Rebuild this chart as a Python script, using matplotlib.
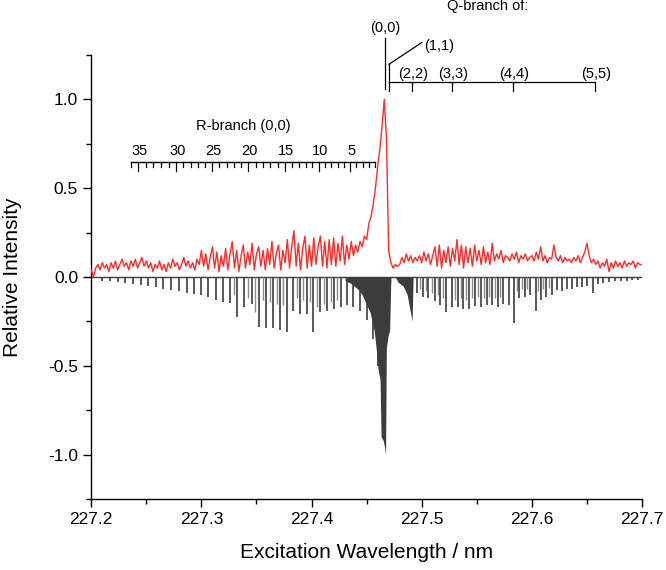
import numpy as np
import matplotlib
matplotlib.use("Agg")
import matplotlib.pyplot as plt
from matplotlib.ticker import MultipleLocator

plt.rcParams["font.family"] = ["Liberation Sans", "DejaVu Sans"]
plt.rcParams["axes.unicode_minus"] = False

# ── measured LIF trace (red), 0.002 nm grid from 227.200 nm ────────────────
WL_START = 227.200
WL_STEP = 0.002
lif = [
    0.04, 0.00, 0.05, 0.07, 0.04, 0.08, 0.05, 0.07, 0.03, 0.08,
    0.05, 0.09, 0.04, 0.07, 0.10, 0.06, 0.08, 0.04, 0.09, 0.06,
    0.10, 0.05, 0.08, 0.11, 0.06, 0.09, 0.05, 0.08, 0.03, 0.07,
    0.05, 0.09, 0.04, 0.07, 0.03, 0.08, 0.05, 0.10, 0.06, 0.08,
    0.04, 0.07, 0.11, 0.06, 0.09, 0.05, 0.08, 0.04, 0.10, 0.07,
    0.15, 0.06, 0.13, 0.04, 0.11, 0.17, 0.05, 0.14, 0.03, 0.12,
    0.06, 0.16, 0.04, 0.13, 0.20, 0.05, 0.15, 0.03, 0.12, 0.18,
    0.05, 0.14, 0.07, 0.19, 0.04, 0.13, 0.17, 0.06, 0.15, 0.04,
    0.16, 0.07, 0.20, 0.05, 0.13, 0.18, 0.04, 0.15, 0.08, 0.21,
    0.05, 0.17, 0.26, 0.06, 0.19, 0.04, 0.16, 0.23, 0.05, 0.18,
    0.06, 0.22, 0.07, 0.17, 0.23, 0.06, 0.20, 0.05, 0.21, 0.07,
    0.22, 0.06, 0.19, 0.09, 0.23, 0.07, 0.18, 0.10, 0.20, 0.12,
    0.18, 0.14, 0.20, 0.17, 0.23, 0.21, 0.30, 0.34, 0.41, 0.50,
    0.62, 0.72, 0.85, 1.00, 0.78, 0.15, 0.08, 0.05, 0.07, 0.06,
    0.07, 0.11, 0.08, 0.13, 0.09, 0.12, 0.08, 0.11, 0.09, 0.12,
    0.08, 0.14, 0.09, 0.13, 0.07, 0.12, 0.17, 0.06, 0.18, 0.05,
    0.15, 0.08, 0.17, 0.06, 0.16, 0.09, 0.21, 0.07, 0.18, 0.05,
    0.17, 0.08, 0.16, 0.06, 0.18, 0.09, 0.15, 0.07, 0.17, 0.08,
    0.14, 0.07, 0.19, 0.09, 0.13, 0.10, 0.15, 0.08, 0.12, 0.11,
    0.09, 0.13, 0.10, 0.14, 0.08, 0.12, 0.10, 0.13, 0.09, 0.11,
    0.12, 0.09, 0.14, 0.10, 0.17, 0.09, 0.12, 0.08, 0.11, 0.10,
    0.18, 0.11, 0.09, 0.12, 0.08, 0.11, 0.09, 0.10, 0.08, 0.11,
    0.09, 0.12, 0.08, 0.11, 0.14, 0.19, 0.12, 0.08, 0.10, 0.07,
    0.09, 0.05, 0.08, 0.06, 0.10, 0.03, 0.08, 0.05, 0.09, 0.06,
    0.08, 0.05, 0.09, 0.06, 0.08, 0.07, 0.09, 0.05, 0.08, 0.07,
    0.07,
]

# ── simulated stick spectrum (plotted downwards) ─────────────────────────────
stick_wl = [
    227.2097, 227.2172, 227.2242, 227.2309, 227.2381, 227.2454, 227.2517,
    227.2590, 227.2653, 227.2723, 227.2799, 227.2868, 227.2935, 227.2998,
    227.3062, 227.3134, 227.3198, 227.3261, 227.3325, 227.3388, 227.3461,
    227.3525, 227.3588, 227.3649, 227.3715, 227.3776, 227.3833, 227.3897,
    227.3957, 227.4015, 227.4078, 227.4142, 227.4205, 227.4266, 227.4320,
    227.4378, 227.4441, 227.4502, 227.4556, 227.4604,
    227.4956, 227.5010, 227.5058, 227.5122, 227.5167, 227.5221, 227.5273,
    227.5330, 227.5376, 227.5430, 227.5485, 227.5539, 227.5591, 227.5639,
    227.5691, 227.5739, 227.5790, 227.5839, 227.5884, 227.5938, 227.5984,
    227.6035, 227.6083, 227.6129, 227.6181, 227.6226, 227.6271, 227.6317,
    227.6362, 227.6407, 227.6453, 227.6498, 227.6558, 227.6601, 227.6646,
    227.6701, 227.6755, 227.6807, 227.6861, 227.6909, 227.6964,
]
stick_int = [
    0.02, 0.025, 0.03, 0.035, 0.04, 0.045, 0.05,
    0.055, 0.065, 0.075, 0.08, 0.09, 0.095, 0.10,
    0.11, 0.13, 0.14, 0.146, 0.225, 0.17, 0.15,
    0.28, 0.29, 0.29, 0.30, 0.31, 0.19, 0.21,
    0.21, 0.31, 0.20, 0.19, 0.18, 0.17, 0.16,
    0.17, 0.19, 0.24, 0.35, 0.50,
    0.09, 0.11, 0.12, 0.135, 0.16, 0.20, 0.17,
    0.17, 0.18, 0.18, 0.165, 0.17, 0.16, 0.16,
    0.17, 0.15, 0.16, 0.26, 0.12, 0.11, 0.10,
    0.19, 0.13, 0.11, 0.10, 0.075, 0.08, 0.065,
    0.065, 0.056, 0.056, 0.05, 0.09, 0.04, 0.035,
    0.03, 0.025, 0.02, 0.02, 0.018, 0.015,
]

# weaker satellite sticks (lighter grey)
sat_wl = [
    227.3295, 227.3420, 227.3490, 227.3555, 227.3620, 227.3685, 227.3745,
    227.3865, 227.3925, 227.3985, 227.4045, 227.4110, 227.4175, 227.4235,
    227.4985, 227.5035, 227.5090, 227.5145, 227.5195, 227.5300, 227.5355,
    227.5405, 227.5460, 227.5512, 227.5565, 227.5615, 227.5665, 227.5715,
    227.5862, 227.5910, 227.5960, 227.6060, 227.6105, 227.6155,
]
sat_int = [
    0.10, 0.12, 0.20, 0.13, 0.14, 0.15, 0.16,
    0.12, 0.13, 0.14, 0.17, 0.15, 0.14, 0.13,
    0.07, 0.08, 0.09, 0.10, 0.12, 0.13, 0.12,
    0.13, 0.12, 0.11, 0.12, 0.11, 0.12, 0.11,
    0.08, 0.07, 0.07, 0.08, 0.07, 0.06,
]

# dense band-head envelopes (Q-branches, unresolved)
head_wl = [227.4305, 227.4368, 227.4423, 227.4459, 227.4495, 227.4532,
           227.4550, 227.4568, 227.4586, 227.4604, 227.4622, 227.4631,
           227.4650, 227.4663, 227.4672, 227.4679, 227.4695, 227.4709,
           227.4718, 227.4722]
head_int = [0.02, 0.04, 0.07, 0.10, 0.15, 0.20,
            0.25, 0.30, 0.40, 0.52, 0.58, 0.90,
            0.92, 0.96, 1.00, 0.40, 0.33, 0.30,
            0.05, 0.0]
q22_wl = [227.4760, 227.4786, 227.4831, 227.4868, 227.4895, 227.4913, 227.4922]
q22_int = [0.0, 0.03, 0.05, 0.10, 0.19, 0.25, 0.0]

# R-branch (0,0) J assignment scale, J = 36 ... 1
r_J = list(range(36, 0, -1))
r_wl = [227.2358, 227.2426, 227.2495, 227.2564, 227.2633, 227.2702, 227.2771,
        227.2837, 227.2902, 227.2967, 227.3033, 227.3098, 227.3163, 227.3229,
        227.3294, 227.3359, 227.3425, 227.3492, 227.3559, 227.3626, 227.3693,
        227.3760, 227.3822, 227.3884, 227.3946, 227.4007, 227.4069, 227.4125,
        227.4181, 227.4238, 227.4294, 227.4350, 227.4407, 227.4463, 227.4519,
        227.4575]

# Q-branch heads
q_labels = ["(0,0)", "(1,1)", "(2,2)", "(3,3)", "(4,4)", "(5,5)"]
q_wl = [227.4668, 227.4704, 227.4913, 227.5276, 227.5830, 227.6570]

RED = "#ff2a2a"
DARK = "#3c3c3c"
LIGHT = "#8a8a8a"

fig = plt.figure(figsize=(6.66, 5.70), dpi=100)
ax = fig.add_axes([0.137, 0.1246, 0.827, 0.779])

wl = WL_START + WL_STEP * np.arange(len(lif))

ax.axhline(0, color=DARK, lw=1.0, zorder=2)
ax.vlines(sat_wl, -np.array(sat_int), 0, color=LIGHT, lw=1.0, zorder=2)
ax.vlines(stick_wl, -np.array(stick_int), 0, color=DARK, lw=1.2, zorder=3)
ax.fill_between(head_wl, -np.array(head_int), 0, color=DARK, lw=0, zorder=3)
ax.fill_between(q22_wl, -np.array(q22_int), 0, color=DARK, lw=0, zorder=3)
ax.plot(wl, lif, color=RED, lw=1.0, zorder=4)

ax.set_xlim(227.2, 227.7)
ax.set_ylim(-1.25, 1.25)
ax.xaxis.set_major_locator(MultipleLocator(0.1))
ax.xaxis.set_minor_locator(MultipleLocator(0.05))
ax.yaxis.set_major_locator(MultipleLocator(0.5))
ax.yaxis.set_minor_locator(MultipleLocator(0.25))
ax.xaxis.set_major_formatter(plt.FuncFormatter(lambda v, p: f"{v:.1f}"))
ax.yaxis.set_major_formatter(plt.FuncFormatter(lambda v, p: f"{v:.1f}"))
ax.tick_params(which="major", direction="out", length=6, width=1.0,
               labelsize=12.5, colors="black")
ax.tick_params(which="minor", direction="out", length=3.5, width=1.0)
for s in ("top", "right"):
    ax.spines[s].set_visible(False)
for s in ("left", "bottom"):
    ax.spines[s].set_linewidth(1.0)

ax.set_xlabel("Excitation Wavelength / nm", fontsize=15)
ax.set_ylabel("Relative Intensity", fontsize=15)
ax.xaxis.set_label_coords(0.5, -0.10)
ax.yaxis.set_label_coords(-0.125, 0.5)

# ── R-branch scale ──────────────────────────────────────────────────────────
ry = 0.65
ax.plot([r_wl[0], r_wl[-1] + 0.0002], [ry, ry], color="black", lw=1.0)
for J, x in zip(r_J, r_wl):
    long = J % 5 == 0
    ax.plot([x, x], [ry, ry - (0.056 if long else 0.03)], color="black", lw=0.9)
    if long:
        ax.text(x + 0.001, ry + 0.02, str(J), ha="center", va="bottom", fontsize=10.5)
ax.text(227.338, 0.85, "R-branch (0,0)", ha="center", va="center", fontsize=10.5)

# ── Q-branch annotation ─────────────────────────────────────────────────────
qy = 1.096
tick_lo = 1.045
kw = dict(color="black", lw=0.9, clip_on=False)
ax.plot([q_wl[0], q_wl[0]], [1.056, 1.345], **kw)
ax.text(q_wl[0] + 0.0005, 1.36, q_labels[0], ha="center", va="bottom", fontsize=10.5)
ax.plot([q_wl[1], q_wl[1]], [tick_lo, 1.198], **kw)
ax.plot([q_wl[1], 227.5001], [1.198, 1.32], **kw)
ax.text(227.5025, 1.30, q_labels[1], ha="left", va="center", fontsize=10.5)
ax.plot([q_wl[1], q_wl[-1]], [qy, qy], **kw)
for lab, x in zip(q_labels[2:], q_wl[2:]):
    ax.plot([x, x], [tick_lo, qy], **kw)
    ax.text(x + 0.001, qy + 0.01, lab, ha="center", va="bottom", fontsize=10.5)
ax.text(227.560, 1.525, "Q-branch of:", ha="center", va="center", fontsize=10.5,
        clip_on=False)

fig.savefig("out.png", dpi=100)
